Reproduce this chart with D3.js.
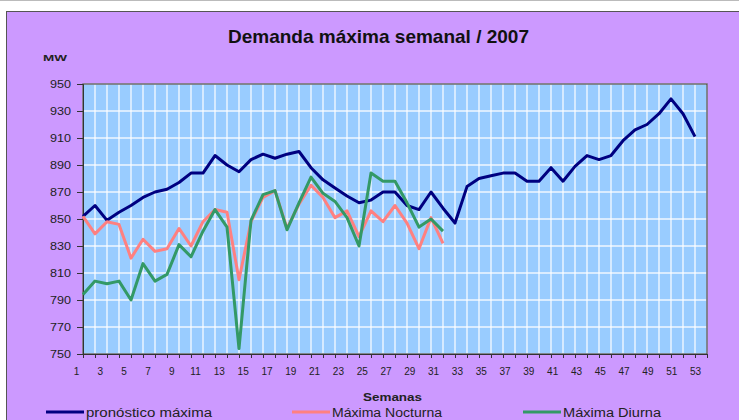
<!DOCTYPE html>
<html>
<head>
<meta charset="utf-8">
<script src="https://cdn.jsdelivr.net/npm/d3@7"></script>
<style>
  body { margin: 0; background: #fff; }
  svg { display: block; font-family: "Liberation Sans", Arial, sans-serif; }
</style>
</head>
<body>
<div id="chart"></div>
<script>
// weekly maximum demand, MW
var pronostico = [852, 860, 849, 855, 860, 866, 870, 872, 877, 884, 884, 897, 890, 885, 894,
  898, 895, 898, 900, 888, 879, 873, 867, 862, 864, 870, 870, 860, 857, 870, 858, 847, 874,
  880, 882, 884, 884, 878, 878, 888, 878, 889, 897, 894, 897, 908, 916, 920, 928, 939, 928, 911];
var nocturna = [852, 839, 848, 846, 821, 835, 826, 828, 843, 830, 848, 857, 855, 805, 848,
  866, 871, 843, 861, 875, 866, 851, 856, 837, 856, 848, 860, 847, 828, 851, 832];
var diurna = [794, 804, 802, 804, 790, 817, 804, 809, 831, 822, 841, 857, 844, 754, 849,
  868, 871, 842, 862, 881, 869, 863, 851, 830, 884, 878, 878, 862, 844, 850, 841];

var weekTicks = [1, 3, 5, 7, 9, 11, 13, 15, 17, 19, 21, 23, 25, 27, 29, 31, 33, 35, 37, 39,
  41, 43, 45, 47, 49, 51, 53];
var mwTicks = [750, 770, 790, 810, 830, 850, 870, 890, 910, 930, 950];
var seriesNames = ["pronóstico máxima", "Máxima Nocturna", "Máxima Diurna"];
var seriesColors = ["#000080", "#ff8080", "#339966"];

var W = 739, H = 420;
var svg = d3.select("#chart").append("svg")
  .attr("width", W)
  .attr("height", H);

svg.append("line")
  .attr("x1", 0).attr("x2", W).attr("y1", 0.5).attr("y2", 0.5)
  .attr("stroke", "#bbbbbb");

// chart panel
svg.append("rect")
  .attr("x", 6.5).attr("y", 11.5)
  .attr("width", W).attr("height", H)
  .attr("fill", "#cc99ff")
  .attr("stroke", "#555");

var plot = { left: 83, top: 84, right: 707, bottom: 354 };

var x = d3.scaleLinear().domain([1, 53]).range([plot.left, plot.right]);
var xLab = d3.scaleLinear().domain([1, 53]).range([76, 695]);
var y = d3.scaleLinear().domain([750, 950]).range([plot.bottom, plot.top]);

svg.append("rect")
  .attr("x", plot.left).attr("y", plot.top)
  .attr("width", plot.right - plot.left).attr("height", plot.bottom - plot.top)
  .attr("fill", "#99ccff");

/******** grid ********/
var allWeeks = d3.range(1, 54);
svg.append("g").selectAll("line")
  .data(allWeeks)
  .enter().append("line")
  .attr("x1", function (d) { return x(d); })
  .attr("x2", function (d) { return x(d); })
  .attr("y1", plot.top).attr("y2", plot.bottom)
  .attr("stroke", "#ffffff").attr("stroke-width", 1.4).attr("stroke-opacity", 0.85);

svg.append("g").selectAll("line")
  .data(mwTicks)
  .enter().append("line")
  .attr("x1", plot.left).attr("x2", plot.right)
  .attr("y1", function (d) { return y(d); })
  .attr("y2", function (d) { return y(d); })
  .attr("stroke", "#ffffff").attr("stroke-width", 1.4).attr("stroke-opacity", 0.85);

svg.append("rect")
  .attr("x", plot.left).attr("y", plot.top)
  .attr("width", plot.right - plot.left).attr("height", plot.bottom - plot.top)
  .attr("fill", "none").attr("stroke", "#444").attr("stroke-width", 1.2);

/******** axes ********/
var yAxis = svg.append("g")
  .attr("transform", "translate(" + plot.left + ",0)")
  .call(d3.axisLeft(y).tickValues(mwTicks).tickSize(6).tickPadding(6));
yAxis.select(".domain").attr("stroke", "#333");
yAxis.selectAll("line").attr("stroke", "#333");
yAxis.selectAll("text")
  .attr("font-size", 10).attr("fill", "#222")
  .attr("textLength", 21).attr("lengthAdjust", "spacingAndGlyphs");

var xTicks = svg.append("g")
  .attr("transform", "translate(0," + plot.bottom + ")")
  .call(d3.axisBottom(x).tickValues(allWeeks).tickSize(4).tickFormat(""));
xTicks.select(".domain").attr("stroke", "#333");
xTicks.selectAll("line").attr("stroke", "#333");

var xLabels = svg.append("g")
  .attr("transform", "translate(0," + plot.bottom + ")")
  .call(d3.axisBottom(xLab).tickValues(weekTicks).tickSize(0).tickPadding(14));
xLabels.select(".domain").remove();
xLabels.selectAll("text").attr("font-size", 10).attr("fill", "#222");

/******** series ********/
var line = d3.line()
  .x(function (d, i) { return x(i + 1); })
  .y(function (d) { return y(d); });

[pronostico, nocturna, diurna].forEach(function (s, i) {
  svg.append("path")
    .datum(s)
    .attr("d", line)
    .attr("fill", "none")
    .attr("stroke", seriesColors[i])
    .attr("stroke-width", 3)
    .attr("stroke-linejoin", "round");
});

/******** texts ********/
svg.append("text")
  .attr("x", 378.5).attr("y", 43)
  .attr("text-anchor", "middle")
  .attr("font-size", 19).attr("font-weight", "bold").attr("fill", "#111")
  .text("Demanda máxima semanal / 2007");

svg.append("text")
  .attr("x", 43).attr("y", 61)
  .attr("font-size", 9).attr("font-weight", "bold").attr("fill", "#222")
  .attr("textLength", 24).attr("lengthAdjust", "spacingAndGlyphs")
  .text("MW");

svg.append("text")
  .attr("x", 363).attr("y", 401)
  .attr("font-size", 11).attr("font-weight", "bold").attr("fill", "#222")
  .attr("textLength", 59).attr("lengthAdjust", "spacingAndGlyphs")
  .text("Semanas");

/******** legend ********/
var legendX = [46, 292, 523];
var legendW = [126, 110, 98];
var legend = svg.append("g").selectAll("g")
  .data(seriesNames)
  .enter().append("g")
  .attr("transform", function (d, i) { return "translate(" + legendX[i] + ",412)"; });
legend.append("line")
  .attr("x1", 0).attr("x2", 38)
  .attr("stroke", function (d, i) { return seriesColors[i]; })
  .attr("stroke-width", 3);
legend.append("text")
  .attr("x", 40).attr("y", 5)
  .attr("font-size", 12).attr("fill", "#222")
  .attr("textLength", function (d, i) { return legendW[i]; })
  .attr("lengthAdjust", "spacingAndGlyphs")
  .text(function (d) { return d; });
</script>
</body>
</html>
